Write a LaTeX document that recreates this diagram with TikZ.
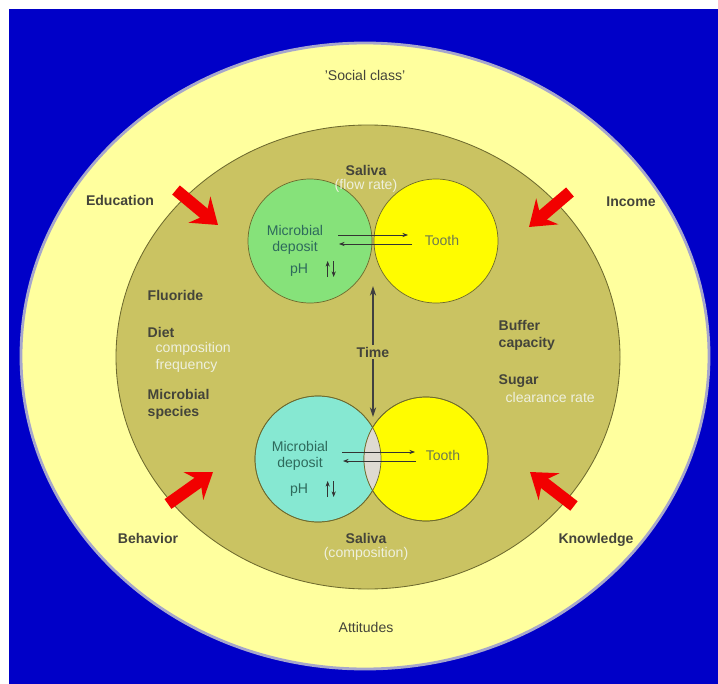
\documentclass[tikz,border=0pt]{standalone}
\usepackage{fontspec}
\setmainfont{Liberation Sans}
\usetikzlibrary{arrows.meta}
\usetikzlibrary{calc}
\definecolor{deepblue}{HTML}{0000C8}
\definecolor{paleyellow}{HTML}{FFFF9E}
\definecolor{rim}{HTML}{A6A6CC}
\definecolor{olive}{HTML}{CAC362}
\definecolor{olivedark}{HTML}{6E6A2E}
\definecolor{mintgreen}{HTML}{86E27A}
\definecolor{aqua}{HTML}{86E8D2}
\definecolor{toothyellow}{HTML}{FFFC00}
\definecolor{lens}{HTML}{DEDAD2}
\definecolor{labelgrey}{HTML}{44443A}
\definecolor{sublabel}{HTML}{EEF0DE}
\definecolor{tealtext}{HTML}{2E6A5C}
\definecolor{toothtext}{HTML}{6E7A50}
\definecolor{arrowred}{HTML}{F20000}
\tikzset{
  % bold factor labels
  factor/.style={font=\bfseries\fontsize{10}{12}\selectfont, text=labelgrey, inner sep=1pt},
  % plain labels in the outer ring
  ring/.style={font=\fontsize{10}{12}\selectfont, text=labelgrey, inner sep=1pt},
  % light sub-labels
  sublbl/.style={font=\fontsize{10}{12}\selectfont, text=sublabel, inner sep=1pt},
  % text inside the circles
  intext/.style={font=\fontsize{10}{11}\selectfont, text=tealtext, inner sep=1pt, align=center},
  % circles
  blob/.style={draw=olivedark, line width=0.5pt},
  % arrows
  push/.style={-{Stealth[length=17pt, width=24pt, inset=6pt]}, draw=arrowred, line width=8.5pt},
  flow/.style={-{Stealth[length=4pt, width=3pt]}, draw=black!80, line width=0.5pt},
  timeline/.style={-{Stealth[length=7pt, width=4.5pt]}, draw=black!75, line width=0.8pt},
}

\begin{document}
\begin{tikzpicture}[x=0.025cm, y=-0.025cm]

  \useasboundingbox (0,0) rectangle (718,684);
  \fill[white] (0,0) rectangle (718,684);
  \fill[deepblue] (9,9) rectangle (718,684);

  % rings
  \fill[paleyellow, draw=rim, line width=2pt] (365,356) ellipse[x radius=344, y radius=313];
  \fill[olive, draw=olivedark, line width=0.6pt] (368,357) ellipse[x radius=252, y radius=232];

  % upper pair
  \fill[mintgreen, blob] (310,241) circle[radius=62];
  \fill[toothyellow, blob] (436,241) circle[radius=62];

  % lower pair
  \fill[aqua, blob] (318,459) circle[radius=63];
  \fill[toothyellow, blob] (426,459) circle[radius=62];
  \begin{scope}
    \clip (318,459) circle[radius=63];
    \fill[lens] (426,459) circle[radius=62];
  \end{scope}
  \draw[blob] (318,459) circle[radius=63];
  \draw[blob] (426,459) circle[radius=62];

  % outer ring labels
  \node[ring] (social) at (365,75) {'Social class'};
  \node[ring] (attitudes) at (366,627) {Attitudes};
  \node[factor] (education) at (120,200) {Education};
  \node[factor] (income) at (631,202) {Income};
  \node[factor] (behavior) at (148,538) {Behavior};
  \node[factor] (knowledge) at (596,540) {Knowledge};

  % red arrows
  \coordinate (edu-tail) at (176,190);
  \coordinate (edu-tip) at (218,225);
  \coordinate (inc-tail) at (570,192);
  \coordinate (inc-tip) at (529,227);
  \coordinate (beh-tail) at (168,504);
  \coordinate (beh-tip) at (213,472);
  \coordinate (kno-tail) at (574,506);
  \coordinate (kno-tip) at (530,472);
  \draw[push] (edu-tail) -- (edu-tip);
  \draw[push] (inc-tail) -- (inc-tip);
  \draw[push] (beh-tail) -- (beh-tip);
  \draw[push] (kno-tail) -- (kno-tip);

  % saliva
  \node[factor] (saliva-top) at (366,170) {Saliva};
  \node[sublbl] (flowrate) at (366,186) {(flow rate)};
  \node[factor] (saliva-bot) at (366,538) {Saliva};
  \node[sublbl] (composition-bot) at (366,554) {(composition)};

  % left column
  \node[factor, anchor=west] (fluoride) at (146,295) {Fluoride};
  \node[factor, anchor=west] (diet) at (146,332) {Diet};
  \node[sublbl, anchor=west] (composition) at (154,349) {composition};
  \node[sublbl, anchor=west] (frequency) at (154,366) {frequency};
  \node[factor, anchor=west, align=left] (species) at (146,404) {Microbial\\species};

  % right column
  \node[factor, anchor=west, align=left] (buffer) at (497,335) {Buffer\\capacity};
  \node[factor, anchor=west] (sugar) at (497,381) {Sugar};
  \node[sublbl, anchor=west] (clearance) at (504,397) {clearance rate};

  % time
  \node[factor] (time) at (373,352) {Time};
  \coordinate (time-up) at (373,286);
  \coordinate (time-down) at (373,417);
  \draw[timeline] (time.north) -- (time-up);
  \draw[timeline] (time.south) -- (time-down);

  % upper contents
  \node[intext] (deposit-top) at (295,240) {Microbial\\deposit};
  \node[intext] (ph-top) at (299,270) {pH};
  \node[intext, text=toothtext] (tooth-top) at (442,240) {Tooth};
  \coordinate (ut-a) at (338,235);
  \coordinate (ut-b) at (408,235);
  \coordinate (ut-c) at (412,244);
  \coordinate (ut-d) at (339,244);
  \draw[flow] (ut-a) -- (ut-b);
  \draw[flow] (ut-c) -- (ut-d);
  \draw[flow] ($(ph-top.east)+(18,7)$) -- +(0,-16);
  \draw[flow] ($(ph-top.east)+(24,-9)$) -- +(0,16);

  % lower contents
  \node[intext] (deposit-bot) at (300,456) {Microbial\\deposit};
  \node[intext] (ph-bot) at (299,490) {pH};
  \node[intext, text=toothtext] (tooth-bot) at (443,455) {Tooth};
  \coordinate (lt-a) at (342,452);
  \coordinate (lt-b) at (415,452);
  \coordinate (lt-c) at (416,461);
  \coordinate (lt-d) at (343,461);
  \draw[flow] (lt-a) -- (lt-b);
  \draw[flow] (lt-c) -- (lt-d);
  \draw[flow] ($(ph-bot.east)+(18,7)$) -- +(0,-16);
  \draw[flow] ($(ph-bot.east)+(24,-9)$) -- +(0,16);

\end{tikzpicture}
\end{document}
